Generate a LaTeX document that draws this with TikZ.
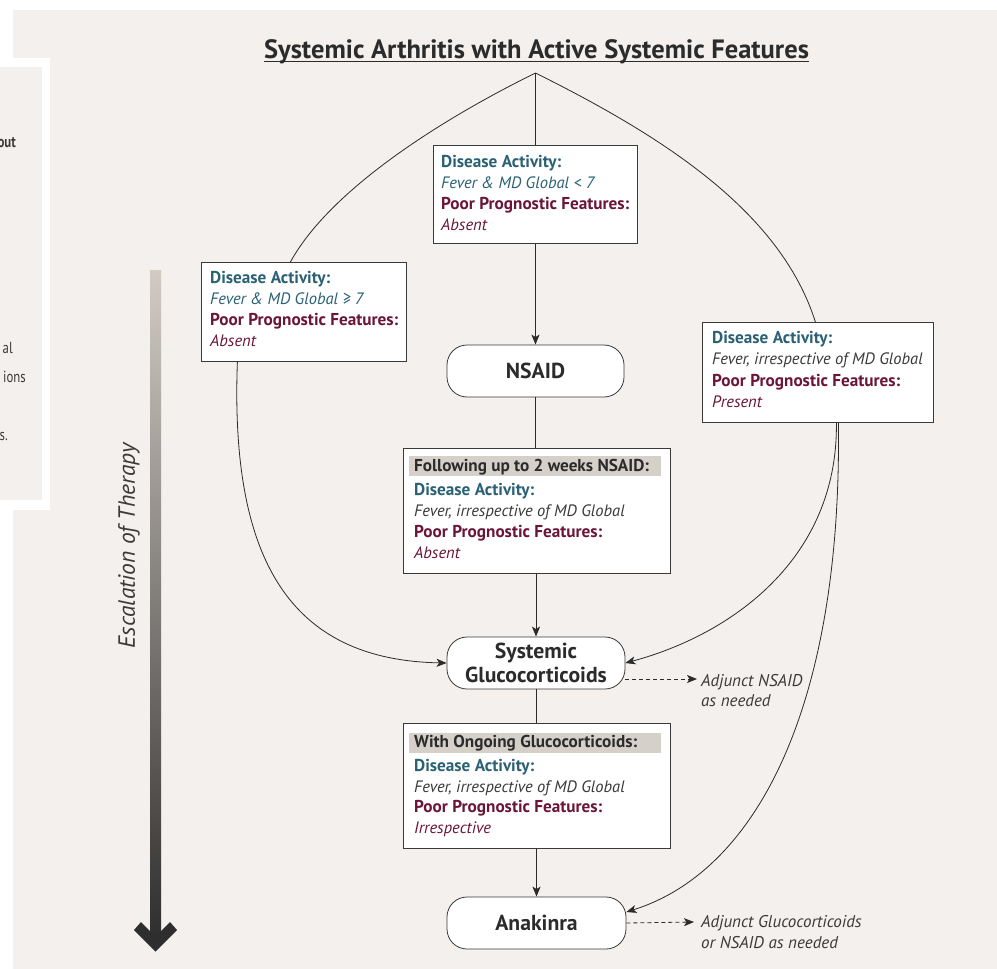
\documentclass[tikz,border=0pt]{standalone}
\usepackage{fontspec}
\setmainfont{PT Sans}
\newfontfamily\narrowfont[FakeStretch=0.8]{PT Sans}
\usetikzlibrary{arrows.meta}
\definecolor{bg}{HTML}{F3F0ED}
\definecolor{tealc}{HTML}{2A6174}
\definecolor{maroonc}{HTML}{6B1538}
\definecolor{txtgray}{HTML}{3A3A3A}
\definecolor{txtdark}{HTML}{2B2B2B}
\definecolor{bandc}{HTML}{D6D0CA}
\definecolor{boxline}{HTML}{3A3A3A}
\definecolor{linec}{HTML}{2B2B2B}
\definecolor{barTop}{HTML}{D2CBC4}
\definecolor{barBot}{HTML}{2E2E2E}
\newcommand{\boldsz}{\fontsize{17.2}{20}\selectfont\bfseries}
\newcommand{\itsz}{\fontsize{16.5}{20}\selectfont\itshape}
\tikzset{
  lnbase/.style={anchor=base west, inner sep=0pt},
  dact/.style={lnbase, text=tealc, font=\boldsz},
  dval/.style={lnbase, text=tealc, font=\itsz},
  gval/.style={lnbase, text=txtgray, font=\itsz},
  ppf/.style={lnbase, text=maroonc, font=\boldsz},
  pval/.style={lnbase, text=maroonc, font=\itsz},
  hdr/.style={lnbase, text=txtdark, font=\boldsz},
  notetxt/.style={lnbase, text=txtgray, font=\fontsize{17}{20}\selectfont\itshape},
  fragtxt/.style={anchor=base east, inner sep=0pt, text=txtgray, font=\fontsize{16}{18}\narrowfont},
  infobox/.style={draw=boxline, line width=0.8pt, fill=white, anchor=north west, inner sep=0pt},
  bandbox/.style={fill=bandc, anchor=north west, inner sep=0pt, minimum width=252pt, minimum height=20pt},
  stage/.style={draw=boxline, line width=0.8pt, fill=white, rounded corners=20pt,
    minimum width=178pt, minimum height=52pt, align=center, inner sep=0pt,
    font=\fontsize{21.7}{24}\selectfont\bfseries, text=txtdark},
  conn/.style={draw=linec, line width=0.8pt},
  arr/.style={conn, -{Stealth[length=10pt,width=8pt,inset=2.5pt]}},
  dasharr/.style={arr, dash pattern=on 4pt off 3pt},
}
\begin{document}
\begin{tikzpicture}[x=1pt,y=-1pt]
\useasboundingbox (0,0) rectangle (997,969);
% backgrounds
\fill[white] (0,0) rectangle (997,969);
\fill[bg] (13,10) rectangle (997,969);
\fill[white] (0,58) rectangle (50,510);
\fill[bg] (0,67) rectangle (42,500);
% fragments of neighbouring panel
\node[fragtxt] (f1) at (16,147) {\bfseries out};
\node[fragtxt] (f2) at (13,353) {al};
\node[fragtxt] (f3) at (26,382) {ions};
\node[fragtxt] (f4) at (8,440) {s.};

% escalation bar
\shade[top color=barTop, bottom color=barBot] (150,270) rectangle (161,940);
\fill[barBot] (134,930) -- (141,922) -- (155.5,936.5) -- (170,922) -- (177,930) -- (155.5,951.5) -- cycle;
\node[rotate=90, inner sep=0pt, text=txtgray, font=\fontsize{23.5}{26}\selectfont\itshape] (esc) at (129,546) {Escalation of Therapy};

% title
\node[inner sep=0pt, anchor=base, font=\fontsize{26.5}{30}\selectfont\bfseries, text=txtdark] (title) at (536.5,58) {Systemic Arthritis with Active Systemic Features};
\draw[txtdark, line width=1pt] ([yshift=-3.5pt]title.base west) -- ([yshift=-3.5pt]title.base east);

% boxes
\node[infobox, minimum width=204pt, minimum height=98pt] (b1) at (433,145) {};
\node[infobox, minimum width=205pt, minimum height=99pt] (b2) at (201,262) {};
\node[infobox, minimum width=231pt, minimum height=100pt] (b3) at (702,322) {};
\node[infobox, minimum width=267pt, minimum height=125pt] (b4) at (403,448) {};
\node[infobox, minimum width=267pt, minimum height=125pt] (b5) at (403,723) {};
\node[bandbox] (band4) at (409,456) {};
\node[bandbox] (band5) at (409,733) {};

% box texts
\node[dact] (b1a) at (441,167) {Disease Activity:};
\node[dval] (b1b) at (441,188) {Fever \& MD Global < 7};
\node[ppf]  (b1c) at (441,209) {Poor Prognostic Features:};
\node[pval] (b1d) at (441,230) {Absent};

\node[dact] (b2a) at (210,283) {Disease Activity:};
\node[dval] (b2b) at (210,304) {Fever \& MD Global ≥ 7};
\node[ppf]  (b2c) at (210,325) {Poor Prognostic Features:};
\node[pval] (b2d) at (210,346) {Absent};

\node[dact] (b3a) at (712,343) {Disease Activity:};
\node[gval] (b3b) at (712,364) {Fever, irrespective of MD Global};
\node[ppf]  (b3c) at (712,386) {Poor Prognostic Features:};
\node[pval] (b3d) at (712,407) {Present};

\node[hdr]  (b4h) at (414,471) {Following up to 2 weeks NSAID:};
\node[dact] (b4a) at (414,495) {Disease Activity:};
\node[gval] (b4b) at (414,516) {Fever, irrespective of MD Global};
\node[ppf]  (b4c) at (414,537) {Poor Prognostic Features:};
\node[pval] (b4d) at (414,558) {Absent};

\node[hdr]  (b5h) at (414,747) {With Ongoing Glucocorticoids:};
\node[dact] (b5a) at (414,771) {Disease Activity:};
\node[gval] (b5b) at (414,792) {Fever, irrespective of MD Global};
\node[ppf]  (b5c) at (414,812) {Poor Prognostic Features:};
\node[pval] (b5d) at (414,833) {Irrespective};

% stages
\node[stage, minimum width=177pt] (nsaid) at (535.5,371) {NSAID};
\node[stage] (gluco) at (536,663) {Systemic\\Glucocorticoids};
\node[stage, minimum width=179pt] (anak) at (536.5,923) {Anakinra};

% notes
\node[notetxt] (n1a) at (701,686) {Adjunct NSAID};
\node[notetxt] (n1b) at (701,706) {as needed};
\node[notetxt] (n2a) at (701,927) {Adjunct Glucocorticoids};
\node[notetxt] (n2b) at (701,948) {or NSAID as needed};
\coordinate (d1e) at (697,679);
\coordinate (d2e) at (694,922);

% connectors
\coordinate (top) at (535.5,73);
\draw[conn] (top) -- (b1.north);
\draw[arr] (b1.south) -- (nsaid.north);
\draw[conn] (nsaid.south) -- (nsaid.south |- b4.north);
\draw[arr] (b4.south -| gluco.north) -- (gluco.north);
\draw[conn] (gluco.south) -- (gluco.south |- b5.north);
\draw[arr] (b5.south -| anak.north) -- (anak.north);

\draw[conn] (top) .. controls (440,120) and (330,190) .. ([xshift=-13.5pt]b2.north);
\draw[conn] (top) .. controls (660,135) and (780,210) .. ([xshift=-2.5pt]b3.north);
\draw[arr] ([xshift=-66.5pt]b2.south) .. controls (230,560) and (290,660) .. (gluco.west);
\draw[arr] ([xshift=18.5pt]b3.south) .. controls (838,560) and (730,635) .. (gluco.east);
\draw[arr] ([xshift=20.5pt]b3.south) .. controls (842,700) and (760,870) .. ([yshift=11pt]anak.east);

\draw[dasharr] ([yshift=-16pt]gluco.east) -- (d1e);
\draw[dasharr] (anak.east) -- (d2e);
\end{tikzpicture}
\end{document}
